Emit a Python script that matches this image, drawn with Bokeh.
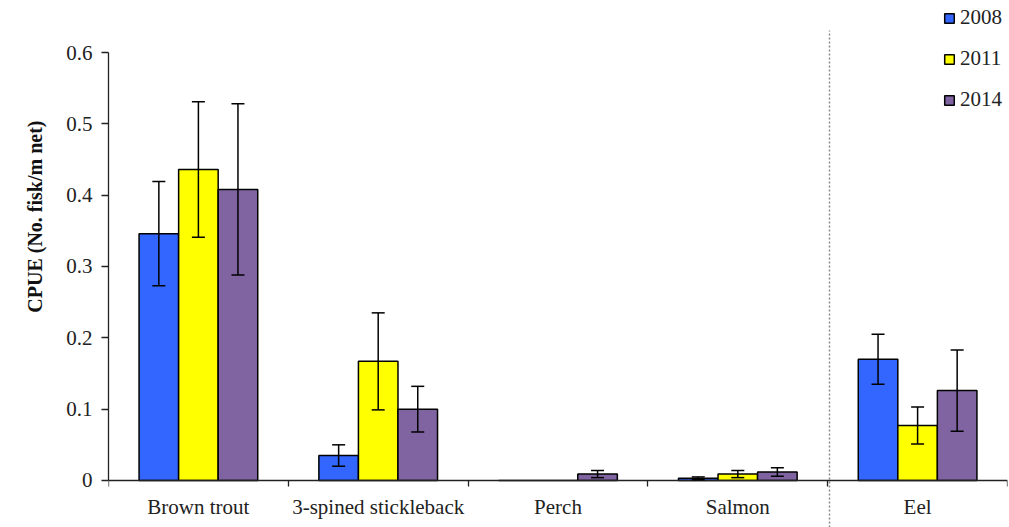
from bokeh.plotting import figure
from bokeh.models import (ColumnDataSource, Range1d, FixedTicker, Whisker, TeeHead,
                          Title, Legend, LegendItem)
from bokeh.embed import file_html
from bokeh.resources import INLINE

species = ["Brown trout", "3-spined stickleback", "Perch", "Salmon", "Eel"]
years = ["2008", "2011", "2014"]
cpue_2008 = [0.346, 0.035, 0.0, 0.003, 0.170]
cpue_2011 = [0.436, 0.167, 0.0, 0.009, 0.077]
cpue_2014 = [0.408, 0.100, 0.009, 0.012, 0.126]
err_2008 = [0.073, 0.015, 0.0, 0.002, 0.035]
err_2011 = [0.095, 0.068, 0.0, 0.005, 0.026]
err_2014 = [0.120, 0.032, 0.005, 0.006, 0.057]
colors = ["#3366FF", "#FFFF00", "#8064A2"]
y_ticks = [0, 0.1, 0.2, 0.3, 0.4, 0.5, 0.6]
y_tick_labels = ["0", "0.1", "0.2", "0.3", "0.4", "0.5", "0.6"]
y_label = "CPUE (No. fisk/m net)"
separator_after = "Salmon"

FONT = "Liberation Serif"

p = figure(width=1009, height=527, x_range=Range1d(0, len(species)),
           y_range=Range1d(-0.0659, 0.6729), output_backend="svg",
           toolbar_location=None, min_border_left=108, min_border_right=2,
           min_border_top=0, min_border_bottom=0)
p.outline_line_color = None
p.xgrid.visible = False
p.ygrid.visible = False
p.background_fill_color = "white"
p.border_fill_color = "white"

centers = [i + 0.5 for i in range(len(species))]
bar_w = 0.22
offsets = [-0.22, 0.0, 0.22]
values = [cpue_2008, cpue_2011, cpue_2014]
errors = [err_2008, err_2011, err_2014]

items = []
for yr, vals, errs, col, off in zip(years, values, errors, colors, offsets):
    xs = [c + off for c in centers]
    src = ColumnDataSource(dict(x=xs, top=vals))
    r = p.vbar(x="x", top="top", width=bar_w, bottom=0, source=src,
               fill_color=col, line_color="black", line_width=1.5)
    items.append(LegendItem(label=yr, renderers=[r]))
    keep = [i for i, e in enumerate(errs) if e > 0]
    wsrc = ColumnDataSource(dict(
        x=[xs[i] for i in keep],
        upper=[vals[i] + errs[i] for i in keep],
        lower=[vals[i] - errs[i] for i in keep]))
    w = Whisker(base="x", upper="upper", lower="lower", source=wsrc,
                dimension="height", line_color="black", line_width=1.5,
                upper_head=TeeHead(size=13, line_width=1.5, line_color="black"),
                lower_head=TeeHead(size=13, line_width=1.5, line_color="black"),
                level="annotation")
    p.add_layout(w)

# dotted separator between Salmon and Eel
sep_x = species.index(separator_after) + 1 + 0.01
p.segment(x0=[sep_x], x1=[sep_x], y0=[p.y_range.start], y1=[0.631],
          line_dash="2 2", line_color="#888888", line_width=1.5)

# x axis
xa = p.xaxis[0]
xa.fixed_location = 0
xa.ticker = FixedTicker(ticks=centers, minor_ticks=list(range(len(species) + 1)))
xa.major_label_overrides = {c: s for c, s in zip(centers, species)}
xa.major_tick_line_color = None
xa.major_tick_out = 0
xa.major_tick_in = 0
xa.minor_tick_out = 6
xa.minor_tick_in = 0
xa.minor_tick_line_color = "#222222"
xa.minor_tick_line_width = 1.3
xa.axis_line_color = "#222222"
xa.axis_line_width = 1.3
xa.major_label_standoff = 9
xa.major_label_text_font = FONT
xa.major_label_text_font_size = "21px"
xa.major_label_text_color = "#222222"

# y axis
ya = p.yaxis[0]
ya.ticker = FixedTicker(ticks=y_ticks)
ya.bounds = (0, 0.6)
ya.major_label_overrides = {t: s for t, s in zip(y_ticks, y_tick_labels)}
ya.major_tick_out = 7
ya.major_tick_in = 0
ya.minor_tick_line_color = None
ya.major_tick_line_color = "#222222"
ya.major_tick_line_width = 1.3
ya.axis_line_color = "#222222"
ya.axis_line_width = 1.3
ya.major_label_standoff = 9
ya.major_label_text_font = FONT
ya.major_label_text_font_size = "21px"
ya.major_label_text_color = "#222222"

p.add_layout(Title(text=y_label, align="right", offset=120, standoff=36,
                   text_font=FONT, text_font_style="bold",
                   text_font_size="20px", text_color="#111111"), "left")

legend = Legend(items=items, location=(835, 415), glyph_width=12, glyph_height=12,
                label_standoff=5, spacing=16, label_height=24, padding=0, margin=0,
                border_line_color=None, background_fill_alpha=0,
                label_text_font=FONT, label_text_font_size="21px",
                label_text_color="#222222")
p.add_layout(legend)

open("out.html", "w").write(file_html(p, INLINE))
